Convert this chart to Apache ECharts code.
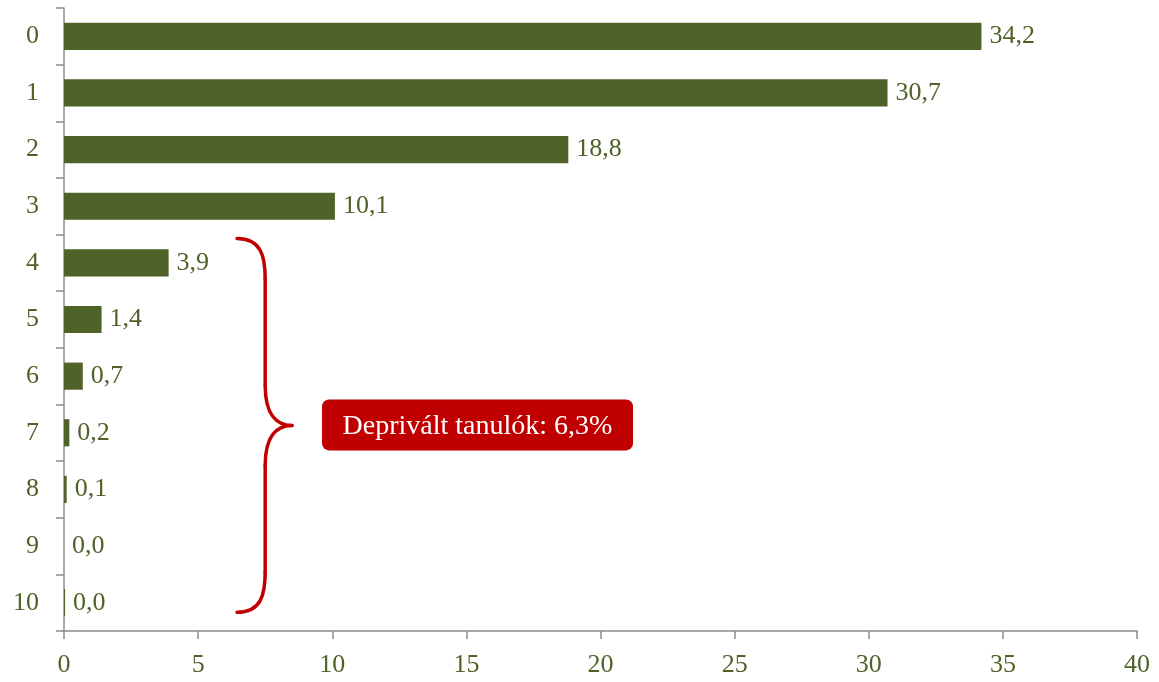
<!DOCTYPE html>
<html><head><meta charset="utf-8">
<script src="https://cdn.jsdelivr.net/npm/echarts@6/dist/echarts.min.js"></script>
<style>html,body{margin:0;padding:0;background:#fff}#c{width:1159px;height:682px}</style>
</head><body><div id="c"></div>
<script>
var categories = ['0','1','2','3','4','5','6','7','8','9','10'];
var values = [34.2, 30.7, 18.8, 10.1, 3.9, 1.4, 0.7, 0.2, 0.1, 0.0, 0.04];
var xTicks = [0, 40, 5];
var annotationText = 'Deprivált tanulók: 6,3%';
var braceRange = ['4', '10'];
var braceX = [6.45, 7.5, 8.5];

var FONT = 'Liberation Serif';
var OLIVE = '#4f6228';
var FS = 26;
var chart = echarts.init(document.getElementById('c'), null, {renderer: 'canvas'});
var option = {
  animation: false,
  grid: {left: 64, right: 22, top: 8, bottom: 51, containLabel: false},
  xAxis: {
    type: 'value', min: xTicks[0], max: xTicks[1], interval: xTicks[2],
    axisLine: {show: true, lineStyle: {color: '#8c8c8c', width: 1.5}},
    axisTick: {show: true, length: 8, lineStyle: {color: '#8c8c8c', width: 1.5}},
    splitLine: {show: false},
    axisLabel: {color: OLIVE, fontFamily: FONT, fontSize: FS, margin: 21}
  },
  yAxis: {
    type: 'category', data: categories, inverse: true,
    axisLine: {show: true, lineStyle: {color: '#8c8c8c', width: 1.5}},
    axisTick: {show: true, length: 8, lineStyle: {color: '#8c8c8c', width: 1.5}},
    axisLabel: {color: OLIVE, fontFamily: FONT, fontSize: FS, margin: 25}
  },
  series: [{
    type: 'bar', data: values, barWidth: '48%',
    itemStyle: {color: OLIVE},
    label: {show: true, position: 'right', distance: 8, color: OLIVE,
      fontFamily: FONT, fontSize: FS,
      formatter: function (p) { return p.value.toFixed(1).replace('.', ','); }}
  }]
};
chart.setOption(option);

function drawAnnotation() {
  var top = chart.convertToPixel({yAxisIndex: 0}, braceRange[0]);
  var bot = chart.convertToPixel({yAxisIndex: 0}, braceRange[1]);
  var band = chart.convertToPixel({yAxisIndex: 0}, '1') - chart.convertToPixel({yAxisIndex: 0}, '0');
  var y0 = top - band * 0.43, y1 = bot + band * 0.17;
  var xs = chart.convertToPixel({xAxisIndex: 0}, braceX[0]);
  var xm = chart.convertToPixel({xAxisIndex: 0}, braceX[1]);
  var xt = chart.convertToPixel({xAxisIndex: 0}, braceX[2]);
  var ym = (y0 + y1) / 2;
  var r = 40;
  var st = {fill: null, stroke: '#c00000', lineWidth: 3.5, lineCap: 'round'};
  var g = [
    {type: 'bezierCurve', shape: {x1: xs, y1: y0, cpx1: xm - 4, cpy1: y0, cpx2: xm, cpy2: y0 + 18, x2: xm, y2: y0 + r}, style: st, z: 10},
    {type: 'line', shape: {x1: xm, y1: y0 + r, x2: xm, y2: ym - r}, style: st, z: 10},
    {type: 'bezierCurve', shape: {x1: xm, y1: ym - r, cpx1: xm, cpy1: ym - 10, cpx2: xm + 12, cpy2: ym, x2: xt, y2: ym}, style: st, z: 10},
    {type: 'bezierCurve', shape: {x1: xt, y1: ym, cpx1: xm + 12, cpy1: ym, cpx2: xm, cpy2: ym + 10, x2: xm, y2: ym + r}, style: st, z: 10},
    {type: 'line', shape: {x1: xm, y1: ym + r, x2: xm, y2: y1 - r}, style: st, z: 10},
    {type: 'bezierCurve', shape: {x1: xm, y1: y1 - r, cpx1: xm, cpy1: y1 - 18, cpx2: xm - 4, cpy2: y1, x2: xs, y2: y1}, style: st, z: 10},
    {type: 'rect', shape: {x: xt + 30, y: ym - 26, width: 311, height: 51, r: 7},
      style: {fill: '#c00000'}, z: 10},
    {type: 'text', x: xt + 30 + 155.5, y: ym + 1, z: 11,
      style: {text: annotationText, fill: '#ffffff', font: '28px "' + FONT + '"',
        textAlign: 'center', textVerticalAlign: 'middle'}}
  ];
  chart.setOption({graphic: g});
}
drawAnnotation();
</script></body></html>
